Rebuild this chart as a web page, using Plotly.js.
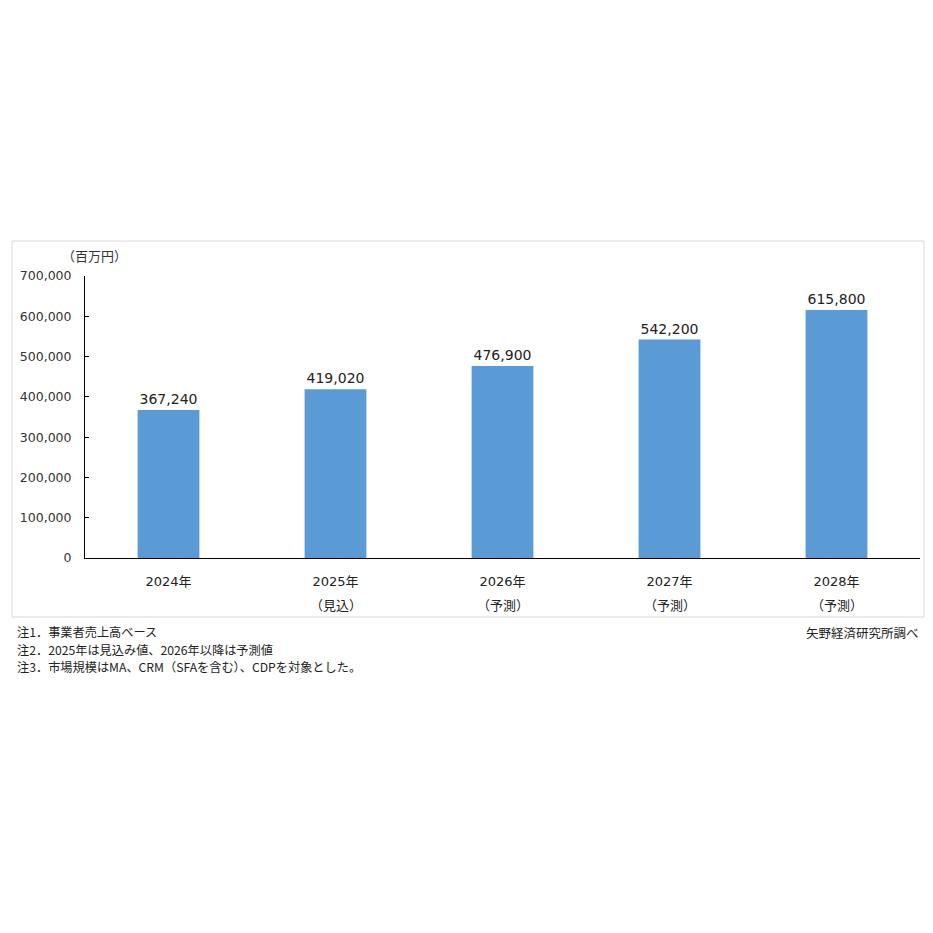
<!DOCTYPE html>
<html><head><meta charset="utf-8">
<script src="https://cdn.plot.ly/plotly-3.0.1.min.js"></script>
<style>html,body{margin:0;padding:0;background:#fff;}#c{width:933px;height:933px;}</style>
</head><body><div id="c"></div>
<script>
const categories = ["2024年","2025年","2026年","2027年","2028年"];
const subLabels = ["","（見込）","（予測）","（予測）","（予測）"];
const values = [367240, 419020, 476900, 542200, 615800];
const yTicks = [0,100000,200000,300000,400000,500000,600000,700000];
const notes = ["注1．事業者売上高ベース","注2．2025年は見込み値、2026年以降は予測値","注3．市場規模はMA、CRM（SFAを含む）、CDPを対象とした。"];
const source = "矢野経済研究所調べ";
const unitLabel = "（百万円）";

const L=85,R=920,T=276,B=558;
const W=R-L,H=B-T;
const px=x=>(x-L)/W, py=y=>(B-y)/H;
const jp = "Noto Sans CJK JP, sans-serif";
const num = "DejaVu Sans, Noto Sans CJK JP, sans-serif";

const trace = {
  type:'bar', x:categories, y:values,
  marker:{color:'#5B9BD5'}, width:0.37,
  text: values.map(v=>v.toLocaleString('en-US')),
  textposition:'outside', cliponaxis:false,
  textfont:{family:num,size:14,color:'#222'},
  hoverinfo:'none'
};

const annotations = [
  {xref:'paper',yref:'paper',x:px(60),y:py(255),xanchor:'left',yanchor:'middle',text:unitLabel,showarrow:false,font:{family:jp,size:13,color:'#333'}},
  {xref:'paper',yref:'paper',x:px(921),y:py(632),xanchor:'right',yanchor:'middle',text:source,showarrow:false,font:{family:jp,size:12.5,color:'#222'}}
];
notes.forEach((n,i)=>annotations.push({xref:'paper',yref:'paper',x:px(16),y:py(632+i*17.6),xanchor:'left',yanchor:'middle',text:n,showarrow:false,borderpad:0,font:{family:jp,size:12.2,color:'#222'}}));
categories.forEach((c,i)=>{ if(subLabels[i]) annotations.push({xref:'x',yref:'paper',x:c,y:py(604),xanchor:'center',yanchor:'middle',text:subLabels[i],showarrow:false,font:{family:jp,size:13,color:'#222'}}); });

const layout = {
  width:933,height:933,
  margin:{l:L,r:933-R,t:T,b:933-B,pad:0},
  paper_bgcolor:'#fff',plot_bgcolor:'#fff',
  showlegend:false,
  xaxis:{type:'category',showgrid:false,zeroline:false,showline:true,linecolor:'#000',linewidth:1,
    tickmode:'array',tickvals:categories,ticktext:categories,ticks:'',ticklabelstandoff:11,
    tickfont:{family:num,size:13,color:'#222'}},
  yaxis:{range:[0,700000],showgrid:false,zeroline:false,showline:true,linecolor:'#000',linewidth:1,
    tickmode:'array',tickvals:yTicks,ticktext:yTicks.map(v=>v.toLocaleString('en-US')),
    ticks:'inside',ticklen:4,tickcolor:'#000',ticklabelstandoff:10,
    tickfont:{family:num,size:12.5,color:'#333'}},
  shapes:[{type:'rect',xref:'paper',yref:'paper',x0:px(12),x1:px(924),y0:py(617),y1:py(241),line:{color:'#d9d9d9',width:1},layer:'below'}],
  annotations:annotations
};
Plotly.newPlot('c',[trace],layout,{staticPlot:true,displayModeBar:false});
</script></body></html>
